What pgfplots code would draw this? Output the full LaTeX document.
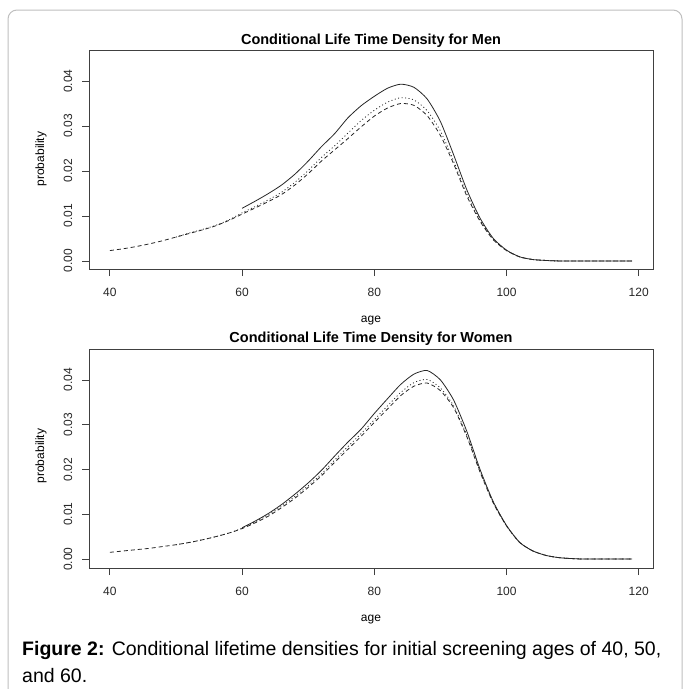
\documentclass[border=0pt]{standalone}
\usepackage{pgfplots}
\usepackage{pgfplotstable}
\pgfplotsset{compat=1.18}
\usepackage{fontspec}
\setmainfont{Liberation Sans}

% conditional lifetime densities, screening age 60 / 50 / 40
\pgfplotstableread{
age  s60     s50     s40
40   nan     nan     0.0023
42   nan     nan     0.0027
44   nan     nan     0.0032
46   nan     nan     0.0038
48   nan     nan     0.0045
50   nan     0.0053  0.0053
52   nan     0.0062  0.0061
54   nan     0.0070  0.0069
56   nan     0.0079  0.0078
58   nan     0.0091  0.0090
60   0.0117  0.0107  0.0104
62   0.0133  0.0121  0.0118
64   0.0150  0.0136  0.0132
66   0.0169  0.0153  0.0148
68   0.0193  0.0175  0.0169
70   0.0222  0.0201  0.0194
72   0.0254  0.0230  0.0222
74   0.0283  0.0256  0.0247
76   0.0318  0.0284  0.0272
78   0.0345  0.0312  0.0298
80   0.0366  0.0335  0.0322
82   0.0384  0.0353  0.0340
84   0.0393  0.0363  0.0350
86   0.0386  0.0358  0.0346
88   0.0360  0.0334  0.0323
90   0.0310  0.0289  0.0279
92   0.0236  0.0222  0.0216
94   0.0158  0.0149  0.0144
96   0.0095  0.0090  0.0088
98   0.0050  0.0048  0.0047
100  0.0024  0.0023  0.0023
102  0.0009  0.0009  0.0009
104  0.0003  0.0003  0.0003
106  0.0001  0.0001  0.0001
108  0       0       0
119  0       0       0
}\men

\pgfplotstableread{
age  s60     s50     s40
40   nan     nan     0.0015
42   nan     nan     0.0018
44   nan     nan     0.0021
46   nan     nan     0.0024
48   nan     nan     0.0028
50   nan     0.0032  0.0032
52   nan     0.0037  0.0037
54   nan     0.0043  0.0043
56   nan     0.0050  0.0050
58   nan     0.0058  0.0058
60   0.0070  0.0069  0.0068
62   0.0085  0.0083  0.0081
64   0.0102  0.0099  0.0096
66   0.0122  0.0118  0.0115
68   0.0145  0.0140  0.0136
70   0.0170  0.0164  0.0160
72   0.0198  0.0190  0.0186
74   0.0230  0.0221  0.0216
76   0.0261  0.0251  0.0245
78   0.0290  0.0280  0.0274
80   0.0325  0.0311  0.0305
82   0.0358  0.0342  0.0335
84   0.0390  0.0372  0.0365
86   0.0413  0.0394  0.0386
88   0.0421  0.0401  0.0393
90   0.0400  0.0382  0.0376
92   0.0355  0.0342  0.0338
94   0.0285  0.0276  0.0273
96   0.0200  0.0196  0.0194
98   0.0128  0.0126  0.0125
100  0.0075  0.0074  0.0074
102  0.0037  0.0037  0.0037
104  0.0018  0.0018  0.0018
106  0.0008  0.0008  0.0008
108  0.0003  0.0003  0.0003
110  0.0001  0.0001  0.0001
112  0       0       0
119  0       0       0
}\women

\pgfplotsset{
  rplot/.style={
    scale only axis,
    width=564bp, height=219bp,
    anchor=north west,
    xmin=36.84, xmax=122.16,
    ymin=-0.0018, ymax=0.0469,
    xtick={40,60,80,100,120},
    ytick={0,0.01,0.02,0.03,0.04},
    yticklabels={0.00,0.01,0.02,0.03,0.04},
    scaled y ticks=false,
    tick align=outside,
    major tick length=7bp,
    xtick pos=bottom, ytick pos=left,
    axis line style={black!75, line width=0.8bp},
    every tick/.style={black!75, line width=0.8bp},
    tick label style={font=\fontsize{12bp}{14bp}\selectfont, text=black!85},
    xticklabel style={anchor=center, yshift=-16bp},
    yticklabel style={xshift=-14bp, rotate=90, anchor=center},
    /pgf/number format/assume math mode=true,
    clip=false,
  },
  s60/.style={black!85, line width=0.8bp, smooth, tension=0.4},
  s50/.style={black!85, line width=0.8bp, smooth, tension=0.4, dash pattern=on 1bp off 2.5bp},
  s40/.style={black!85, line width=0.8bp, smooth, tension=0.4, dash pattern=on 4bp off 3bp},
}

\begin{document}
\begin{tikzpicture}
\useasboundingbox (0,0) rectangle (683bp,-689bp);
\draw[black!25, line width=1bp, rounded corners=9bp] (8bp,-700bp) -- (8bp,-10bp) -- (682bp,-10bp) -- (682bp,-700bp);

\begin{axis}[rplot, at={(89bp,-50bp)}]
  \addplot[s60] table[x=age, y=s60] {\men};
  \addplot[s50] table[x=age, y=s50] {\men};
  \addplot[s40] table[x=age, y=s40] {\men};
\end{axis}
\node[font=\bfseries\fontsize{14.5bp}{17bp}\selectfont] at (371bp,-41bp) {Conditional Life Time Density for Men};
\node[font=\fontsize{12bp}{14bp}\selectfont] at (371bp,-321bp) {age};
\node[font=\fontsize{12bp}{14bp}\selectfont, rotate=90] at (41bp,-159bp) {probability};

\begin{axis}[rplot, at={(89bp,-349bp)}, ymin=-0.002]
  \addplot[s60] table[x=age, y=s60] {\women};
  \addplot[s50] table[x=age, y=s50] {\women};
  \addplot[s40] table[x=age, y=s40] {\women};
\end{axis}
\node[font=\bfseries\fontsize{14.5bp}{17bp}\selectfont] at (371bp,-339bp) {Conditional Life Time Density for Women};
\node[font=\fontsize{12bp}{14bp}\selectfont] at (371bp,-620bp) {age};
\node[font=\fontsize{12bp}{14bp}\selectfont, rotate=90] at (41bp,-456bp) {probability};

\node[anchor=base west, font=\fontsize{19.5bp}{27bp}\selectfont, inner sep=0pt]
  at (22bp,-655bp) {\textbf{Figure 2:} Conditional lifetime densities for initial screening ages of 40, 50,};
\node[anchor=base west, font=\fontsize{19.5bp}{27bp}\selectfont, inner sep=0pt]
  at (22bp,-682bp) {and 60.};
\end{tikzpicture}
\end{document}
